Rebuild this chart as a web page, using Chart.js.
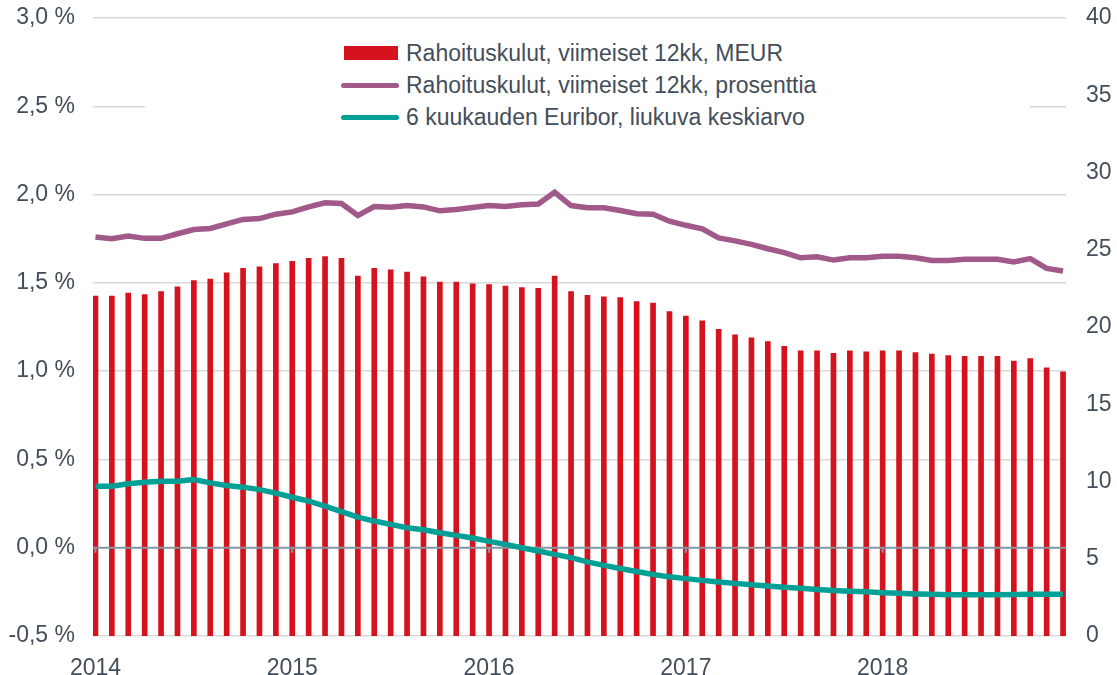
<!DOCTYPE html>
<html lang="fi">
<head>
<meta charset="utf-8">
<title>Rahoituskulut</title>
<script src="https://cdn.jsdelivr.net/npm/chart.js@4/dist/chart.umd.min.js"></script>
<style>
  html, body { margin: 0; padding: 0; background: #fff; }
  #wrap { position: relative; width: 1117px; height: 675px; }
  #legend {
    position: absolute; left: 145px; top: 34px; width: 885px; height: 98px;
    background: #fff; box-sizing: border-box; padding: 3px 0 0 196px;
    font-family: "Liberation Sans", Arial, sans-serif; font-size: 23px; color: #434e5a;
  }
  #legend .row { height: 32px; line-height: 32px; display: flex; align-items: center; white-space: nowrap; }
  #legend .sw { width: 62px; height: 32px; position: relative; flex: none; margin-right: 3px; }
  #legend .sw i { position: absolute; display: block; }
</style>
</head>
<body>
<div id="wrap">
  <canvas id="chart"></canvas>
  <div id="legend"></div>
</div>
<script>
const years = ['2014', '2015', '2016', '2017', '2018'];

// Rahoituskulut, viimeiset 12kk, MEUR (kuukausittain 1/2014 - 12/2018)
const costMeur = [
  22.0, 22.0, 22.2, 22.1, 22.3, 22.6, 23.0, 23.1, 23.5, 23.8, 23.9, 24.1,
  24.25, 24.45, 24.55, 24.45, 23.3, 23.8, 23.7, 23.55, 23.25, 22.9, 22.9, 22.8,
  22.75, 22.65, 22.55, 22.5, 23.3, 22.3, 22.05, 21.95, 21.9, 21.65, 21.55, 21.0,
  20.7, 20.4, 19.85, 19.5, 19.3, 19.05, 18.75, 18.45, 18.45, 18.3, 18.45, 18.4,
  18.45, 18.45, 18.35, 18.25, 18.15, 18.1, 18.1, 18.1, 17.8, 17.95, 17.35, 17.1
];

// Rahoituskulut, viimeiset 12kk, prosenttia
const costPct = [
  1.76, 1.75, 1.765, 1.752, 1.752, 1.778, 1.802, 1.808, 1.834, 1.859, 1.864, 1.889,
  1.902, 1.93, 1.953, 1.949, 1.881, 1.932, 1.928, 1.938, 1.93, 1.908, 1.915, 1.927,
  1.938, 1.932, 1.942, 1.947, 2.013, 1.938, 1.925, 1.925, 1.91, 1.891, 1.889, 1.849,
  1.826, 1.806, 1.755, 1.738, 1.718, 1.693, 1.671, 1.642, 1.648, 1.629, 1.642, 1.642,
  1.651, 1.651, 1.642, 1.627, 1.627, 1.633, 1.633, 1.633, 1.618, 1.637, 1.582, 1.567
];

// 6 kuukauden Euribor, liukuva keskiarvo
const euribor6m = [
  0.348, 0.348, 0.362, 0.371, 0.377, 0.377, 0.386, 0.367, 0.352, 0.343, 0.329, 0.309,
  0.286, 0.264, 0.236, 0.205, 0.173, 0.151, 0.132, 0.113, 0.102, 0.085, 0.070, 0.055,
  0.036, 0.019, 0.000, -0.019, -0.038, -0.056, -0.080, -0.100, -0.118, -0.135, -0.152, -0.165,
  -0.175, -0.185, -0.194, -0.202, -0.210, -0.217, -0.224, -0.230, -0.236, -0.242, -0.246, -0.250,
  -0.255, -0.258, -0.262, -0.264, -0.266, -0.267, -0.267, -0.266, -0.265, -0.264, -0.263, -0.263
];

const seriesLabels = [
  'Rahoituskulut, viimeiset 12kk, MEUR',
  'Rahoituskulut, viimeiset 12kk, prosenttia',
  '6 kuukauden Euribor, liukuva keskiarvo'
];

const RED = '#d7121f', PURPLE = '#a1598a', TEAL = '#00a096';
const TEXT = '#434e5a', GRID = '#d9d9d9', ZERO = '#8596a0';
const FONT = { family: '"Liberation Sans", Arial, sans-serif', size: 23 };

const toXY = arr => arr.map((v, i) => ({ x: i, y: v }));

// nolla-akseli ja vuosimerkit pylväiden päälle, viivojen alle
const zeroLine = {
  id: 'zeroLine',
  afterDatasetDraw(chart, args) {
    if (args.meta.type !== 'bar') return;
    const { ctx, chartArea, scales } = chart;
    const y0 = scales.y.getPixelForValue(0);
    ctx.save();
    ctx.strokeStyle = ZERO;
    ctx.lineWidth = 2;
    ctx.beginPath();
    ctx.moveTo(chartArea.left, y0);
    ctx.lineTo(chartArea.right, y0);
    scales.x.ticks.forEach(t => {
      const x = scales.x.getPixelForValue(t.value);
      ctx.moveTo(x, y0);
      ctx.lineTo(x, y0 + 5);
    });
    ctx.stroke();
    ctx.restore();
  }
};

const fitY = w => s => { s.width = w; s.paddingTop = 0; s.paddingBottom = 0; };

const chart = new Chart(document.getElementById('chart'), {
  type: 'bar',
  data: {
    datasets: [
      {
        label: seriesLabels[0], data: toXY(costMeur), yAxisID: 'y1',
        backgroundColor: RED, barThickness: 5, order: 3
      },
      {
        type: 'line', label: seriesLabels[1], data: toXY(costPct), yAxisID: 'y',
        borderColor: PURPLE, backgroundColor: PURPLE, borderWidth: 5.5,
        pointRadius: 0, tension: 0, order: 2
      },
      {
        type: 'line', label: seriesLabels[2], data: toXY(euribor6m), yAxisID: 'y',
        borderColor: TEAL, backgroundColor: TEAL, borderWidth: 5.5,
        pointRadius: 0, tension: 0, order: 1
      }
    ]
  },
  options: {
    responsive: true,
    maintainAspectRatio: false,
    animation: false,
    layout: { padding: { top: 18, bottom: 0, left: 0, right: 0 } },
    plugins: { legend: { display: false }, tooltip: { enabled: false } },
    scales: {
      x: {
        type: 'linear', min: -0.15, max: 59.18, offset: false,
        grid: { display: false },
        border: { display: false },
        afterBuildTicks: s => { s.ticks = years.map((_, i) => ({ value: i * 12 })); },
        afterFit: s => { s.height = 39; s.paddingLeft = 0; s.paddingRight = 0; },
        ticks: {
          color: TEXT, font: FONT, padding: 11, maxRotation: 0, autoSkip: false,
          callback: v => years[v / 12]
        }
      },
      y: {
        position: 'left', min: -0.5, max: 3.0,
        border: { display: false },
        grid: {
          drawTicks: false, lineWidth: 1.5,
          color: c => (c.tick && c.tick.value === 0 ? 'rgba(0,0,0,0)' : GRID)
        },
        afterFit: fitY(93),
        ticks: {
          stepSize: 0.5, color: TEXT, font: FONT, padding: 18,
          callback: v => v.toFixed(1).replace('.', ',') + ' %'
        }
      },
      y1: {
        position: 'right', min: 0, max: 40,
        border: { display: false },
        grid: { display: false, drawTicks: false },
        afterFit: fitY(51),
        ticks: { stepSize: 5, color: TEXT, font: FONT, padding: 20 }
      }
    }
  },
  plugins: [zeroLine]
});

// selite
const legend = document.getElementById('legend');
chart.data.datasets.forEach(ds => {
  const row = document.createElement('div');
  row.className = 'row';
  const sw = document.createElement('span');
  sw.className = 'sw';
  const mark = document.createElement('i');
  if (ds.type === 'line') {
    Object.assign(mark.style, { left: '0px', top: '14px', width: '58px', height: '5px',
      borderRadius: '3px', background: ds.borderColor });
  } else {
    Object.assign(mark.style, { left: '3px', top: '9px', width: '54px', height: '14px',
      background: ds.backgroundColor });
  }
  sw.appendChild(mark);
  row.appendChild(sw);
  row.appendChild(document.createTextNode(ds.label));
  legend.appendChild(row);
});
</script>
</body>
</html>
